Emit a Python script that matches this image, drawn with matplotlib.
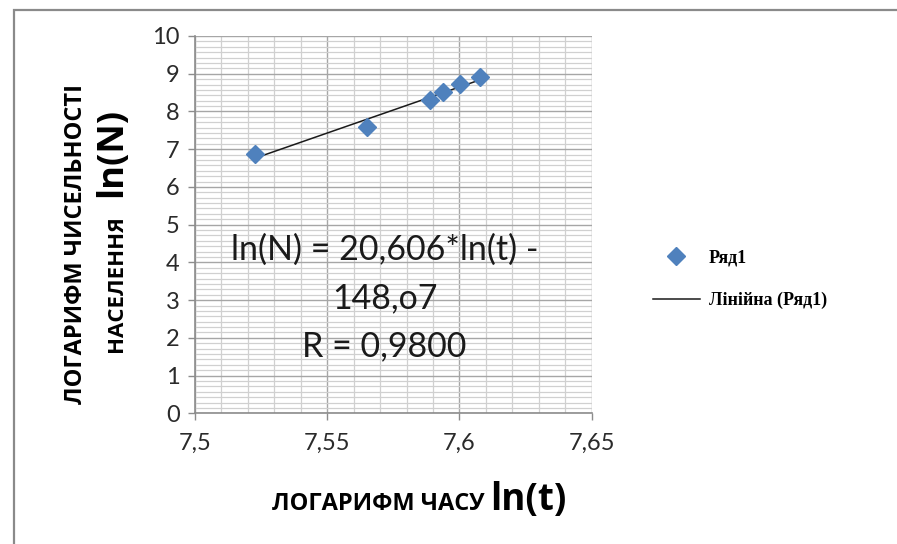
import numpy as np
import matplotlib
matplotlib.use("Agg")
import matplotlib.pyplot as plt
from matplotlib.patches import Rectangle
from matplotlib.ticker import MultipleLocator, FuncFormatter

# Logarithm of time vs logarithm of population
ln_t = [7.5227, 7.5652, 7.5889, 7.5939, 7.6002, 7.6078]
ln_n = [6.87, 7.60, 8.30, 8.51, 8.73, 8.92]

x_ticks = [7.5, 7.55, 7.6, 7.65]
y_ticks = list(range(0, 11))

equation_lines = ["ln(N) = 20,606*ln(t) -", "148,o7", "R = 0,9800"]
series_name = "Ряд1"
trend_name = "Лінійна (Ряд1)"

W, H = 897, 544
fig = plt.figure(figsize=(W / 100, H / 100), dpi=100)
fig.patch.set_facecolor("white")


def fx(px):
    return px / W


def fy(py):
    return 1 - py / H


# chart frame
fig.add_artist(Rectangle((fx(14), fy(560)), fx(900), fy(10) - fy(560),
                         transform=fig.transFigure, fill=False,
                         edgecolor="#8a8a8a", lw=1.6))

ax = fig.add_axes([fx(195), fy(413.3), fx(591.7) - fx(195), fy(36) - fy(413.3)])
ax.set_xlim(7.5, 7.65)
ax.set_ylim(0, 10)

ax.xaxis.set_minor_locator(MultipleLocator(0.01))
ax.yaxis.set_minor_locator(MultipleLocator(1 / 7))
ax.set_xticks(x_ticks)
ax.set_yticks(y_ticks)


def comma(v, _pos):
    s = f"{v:.2f}".rstrip("0").rstrip(".")
    return s.replace(".", ",")


ax.xaxis.set_major_formatter(FuncFormatter(comma))
ax.yaxis.set_major_formatter(FuncFormatter(comma))

ax.grid(which="major", color="#a6a6a6", lw=1.0)
ax.grid(which="minor", color="#d0d0d0", lw=0.9)
ax.set_axisbelow(True)

for side in ["top", "right"]:
    ax.spines[side].set_visible(False)
for side in ["left", "bottom"]:
    ax.spines[side].set_color("#8c8c8c")
    ax.spines[side].set_linewidth(1.2)

ax.tick_params(which="major", direction="out", length=5, width=1.0,
               color="#8c8c8c", labelsize=17, labelcolor="#2a2a2a")
ax.tick_params(which="minor", length=0)
ax.tick_params(axis="x", pad=9)
ax.tick_params(axis="y", pad=6)
for lab in ax.get_xticklabels() + ax.get_yticklabels():
    lab.set_family("Lato")

# linear trend line over the data range
coef = np.polyfit(ln_t, ln_n, 1)
tx = np.array([min(ln_t), max(ln_t)])
trend, = ax.plot(tx, np.polyval(coef, tx), color="#1a1a1a", lw=1.1, zorder=3,
                 label=trend_name)
pts, = ax.plot(ln_t, ln_n, linestyle="none", marker="D", markersize=9.5,
               color="#4f81bd", markeredgecolor="#4f81bd", zorder=4,
               label=series_name)

# trend line equation
for txt, yb in zip(equation_lines, [0.406, 0.279, 0.150]):
    ax.text(0.478, yb, txt, transform=ax.transAxes, ha="center",
            va="baseline", fontsize=24.5, family="Lato", color="#1a1a1a")

# axis titles
fig.text(fx(76), fy(244), "ЛОГАРИФМ ЧИСЕЛЬНОСТІ", rotation=90, ha="center",
         va="center", fontsize=17, fontweight="bold", family="Open Sans")
fig.text(fx(116.5), fy(284), "НАСЕЛЕННЯ", rotation=90, ha="center",
         va="center", fontsize=16, fontweight="bold", family="Open Sans")
fig.text(fx(112), fy(152), "ln(N)", rotation=90, ha="center",
         va="center", fontsize=26, fontweight="bold", family="Open Sans")

fig.text(fx(271.7), fy(510), "ЛОГАРИФМ ЧАСУ", ha="left", va="baseline",
         fontsize=17, fontweight="bold", family="Open Sans")
fig.text(fx(490), fy(510), "ln(t)", ha="left", va="baseline",
         fontsize=26.5, fontweight="bold", family="Open Sans")

leg = fig.legend(handles=[pts, trend], loc="upper left",
                 bbox_to_anchor=(fx(653), fy(249)), frameon=False,
                 prop={"family": "Liberation Serif", "weight": "bold",
                       "size": 13},
                 handlelength=2.6, handletextpad=0.5, labelspacing=1.42,
                 borderpad=0, borderaxespad=0)

fig.savefig("out.png", dpi=100)
